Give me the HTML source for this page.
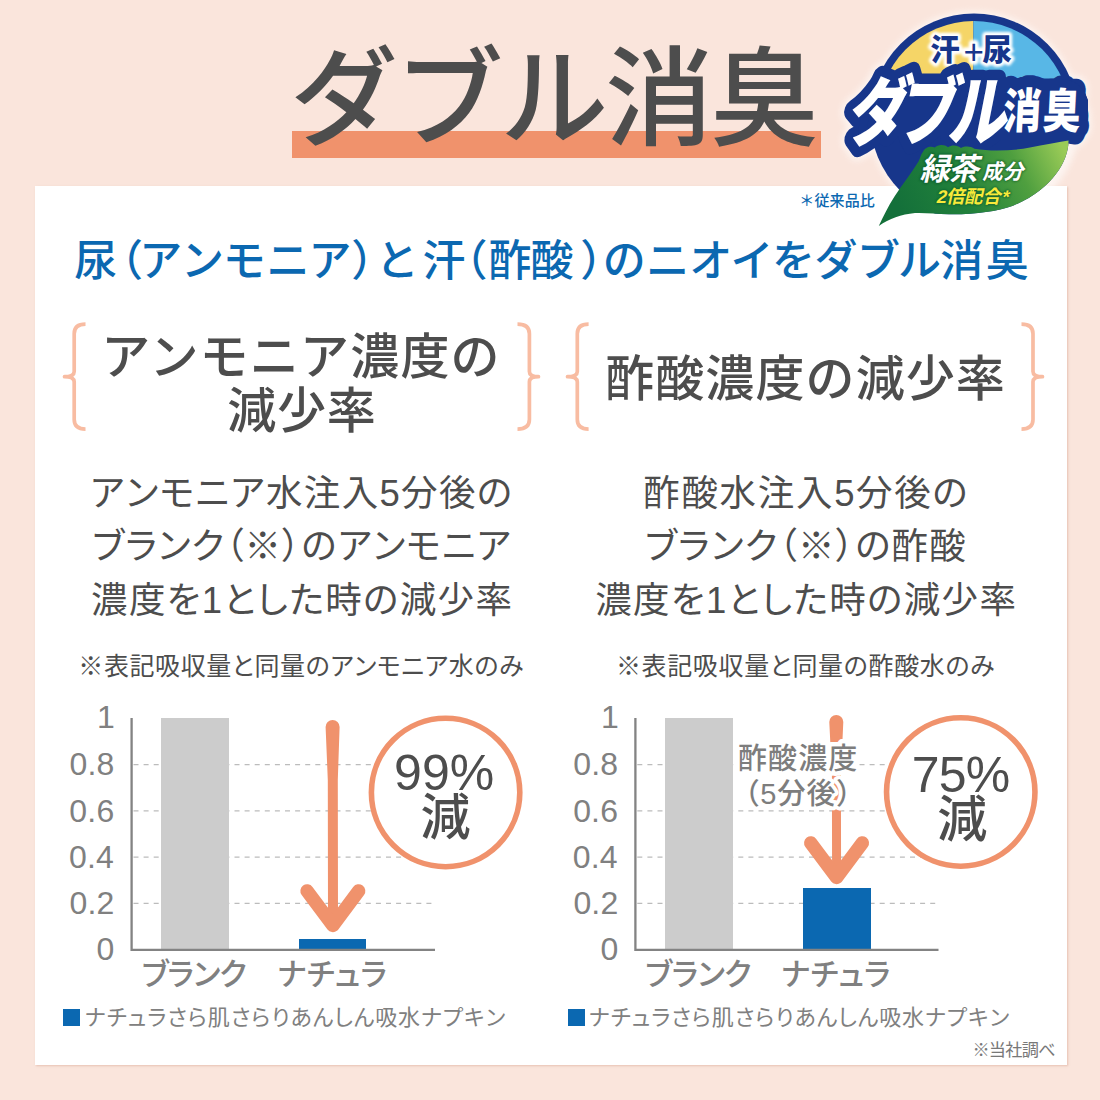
<!DOCTYPE html>
<html lang="ja"><head><meta charset="utf-8"><title>ダブル消臭</title><style>
html,body{margin:0;padding:0}
body{width:1100px;height:1100px;overflow:hidden;background:#fae5dc;font-family:"Liberation Sans",sans-serif}
.page{position:relative;width:1100px;height:1100px;overflow:hidden;background:#fae5dc}
h1,h2,h3,p,figure,figcaption,small,strong,section,header,main,footer{margin:0;padding:0;font-size:0;line-height:0;font-weight:normal;display:block}
.t,.g{position:absolute;display:block;overflow:visible}
.defs{position:absolute;width:0;height:0;overflow:hidden}
.sr{position:absolute;left:0;top:0;width:1px;height:1px;margin:-1px;overflow:hidden;clip:rect(0 0 0 0);clip-path:inset(50%);white-space:nowrap;font-size:1px;line-height:1px}
.ubar{position:absolute;left:292px;top:131px;width:529px;height:26.5px;background:#f0926c}
.cardbg{position:absolute;left:35px;top:186px;width:1032px;height:879px;background:#fff;box-shadow:1.2px 1.2px 1.8px rgba(214,160,140,.5)}
.bar{position:absolute}
.bar.blank{background:#cccccc}
.bar.nat,.key{background:#0b68b1}
.key{position:absolute;width:17px;height:16.5px}
svg text{font-family:"Liberation Sans","Noto Sans CJK JP",sans-serif;white-space:pre}
</style></head><body>
<div class="page"><div class="cardbg"></div><header class="hd"><div class="ubar"></div><h1><span class="sr">ダブル消臭</span><svg class="t" aria-hidden="true" focusable="false" style="left:293px;top:41px" width="524" height="107" viewBox="293 41 524 107"><text x="290.12" y="136.66" font-size="108" font-weight="500" fill="#4d4d4d" letter-spacing="-2.92">ダブル消臭</text></svg></h1><div class="emblem"><span class="sr">汗+尿 ダブル消臭 緑茶成分2倍配合*</span><svg class="g" aria-hidden="true" focusable="false" style="left:832px;top:0px" width="268" height="240" viewBox="832 0 268 240"><defs><linearGradient id="leafg" gradientUnits="userSpaceOnUse" x1="905" y1="222" x2="1062" y2="146"><stop offset="0" stop-color="#14703a"/><stop offset=".38" stop-color="#22813b"/><stop offset=".72" stop-color="#4f9f3f"/><stop offset="1" stop-color="#9acb57"/></linearGradient><filter id="soft" x="-20%" y="-20%" width="140%" height="140%"><feGaussianBlur stdDeviation="3"/></filter><filter id="glow" x="-30%" y="-30%" width="160%" height="160%"><feGaussianBlur stdDeviation="1.6"/></filter><filter id="shade" x="-20%" y="-20%" width="140%" height="140%"><feGaussianBlur stdDeviation="1.3"/></filter></defs><g filter="url(#soft)" fill="#fff" stroke="#fff" opacity=".6"><circle cx="974" cy="117.5" r="104" stroke-width="5"/><g stroke-linejoin="round"><text transform="translate(845.38 139.4) skewX(-11) scale(0.775 1)" font-size="76" font-weight="900" letter-spacing="-10.58" stroke-width="28">ダブル</text><text transform="translate(1002.53 128.4) skewX(-3) scale(0.8 1)" font-size="47.5" font-weight="900" letter-spacing="2" stroke-width="30">消臭</text></g></g><clipPath id="disc"><path d="M832 0 H1100 V141 L1068.5 140.6 C1068.6 151 1064.5 163 1056 174 C1047 186 1033 197.5 1013 205.8 C996 211.6 975 214.6 949 214.3 C936 214.2 925 212.6 915 213.1 C901 214.4 889.5 219 878.8 225.9 L832 240 Z"/></clipPath><circle cx="974" cy="117.5" r="104" fill="#17368b" clip-path="url(#disc)"/><path d="M973.4 117.5 H877.6 A96.4 96.4 0 0 1 973.4 21.1 Z" fill="#f5d567"/><path d="M973.4 117.5 V21.1 A96.4 96.4 0 0 1 1070.4 117.5 Z" fill="#58b7e6"/><g filter="url(#glow)" fill="#fff" stroke="#fff" stroke-linejoin="round"><text x="930.13" y="59.6" font-size="29.5" font-weight="900" stroke-width="5.9">汗</text><text x="963.62" y="63.6" font-size="35" font-weight="500" stroke-width="7">+</text><text x="982.58" y="59.6" font-size="29.5" font-weight="900" stroke-width="5.9">尿</text></g><g filter="url(#glow)" fill="#fff" stroke="#fff" stroke-linejoin="round" opacity=".9"><text x="930.13" y="59.6" font-size="29.5" font-weight="900" stroke-width="3.54">汗</text><text x="963.62" y="63.6" font-size="35" font-weight="500" stroke-width="4.2">+</text><text x="982.58" y="59.6" font-size="29.5" font-weight="900" stroke-width="3.54">尿</text></g><g fill="#17368b"><text x="930.13" y="59.6" font-size="29.5" font-weight="900">汗</text><text x="963.62" y="63.6" font-size="35" font-weight="500">+</text><text x="982.58" y="59.6" font-size="29.5" font-weight="900">尿</text></g><g fill="#17368b" stroke="#17368b" stroke-linejoin="round" stroke-linecap="round"><text transform="translate(845.38 139.4) skewX(-11) scale(0.775 1)" font-size="76" font-weight="900" letter-spacing="-10.58" stroke-width="21">ダブル</text><text transform="translate(1002.53 128.4) skewX(-3) scale(0.8 1)" font-size="47.5" font-weight="900" letter-spacing="2" stroke-width="24">消臭</text><path d="M868 100 H1076 V132 H862 Z" stroke-width="8"/><path d="M966 82 Q966 79 969 79 H1062 Q1082 80 1087.5 100 V120 H966 Z" stroke-width="1"/></g><g fill="#fff"><text transform="translate(845.38 139.4) skewX(-11) scale(0.775 1)" font-size="76" font-weight="900" letter-spacing="-10.58">ダブル</text><text transform="translate(1002.53 128.4) skewX(-3) scale(0.8 1)" font-size="47.5" font-weight="900" letter-spacing="2">消臭</text></g><path d="M878.8 225.9 C883 217 888 206.5 894.5 196.4 C902 184.5 911 174 918.5 161.5 C920.5 158 920.6 154.6 923 151.8 C924.6 147.6 930.5 145.4 934.8 147.6 C937.8 144.2 944.4 144 948 147.2 C951.6 144.6 957.8 144.8 961 148 C965 145.8 971 146.2 974.4 148.8 C990 151.5 1012 151 1030 147.6 C1044 145 1057 142.6 1068.5 140.6 C1068.6 151 1064.5 163 1056 174 C1047 186 1033 197.5 1013 205.8 C996 211.6 975 214.6 949 214.3 C936 214.2 925 212.6 915 213.1 C901 214.4 889.5 219 878.8 225.9 Z" fill="url(#leafg)"/><g filter="url(#shade)" fill="#0f5a2c" stroke="#0f5a2c" stroke-linejoin="round" opacity=".8"><text transform="translate(919.65 179.6) skewX(-13) scale(0.97 1)" font-size="31" font-weight="700" letter-spacing="-1.24" stroke-width="2.17">緑茶</text><text transform="translate(982.22 178.6) skewX(-13) scale(0.97 1)" font-size="21" font-weight="700" letter-spacing="0.41" stroke-width="1.47">成分</text><text transform="translate(935.78 202.9) skewX(-13)" font-size="18.2" font-weight="700" letter-spacing="0.1" stroke-width="1.46">2倍配合*</text></g><g fill="#fff"><text transform="translate(919.65 179.6) skewX(-13) scale(0.97 1)" font-size="31" font-weight="700" letter-spacing="-1.24">緑茶</text><text transform="translate(982.22 178.6) skewX(-13) scale(0.97 1)" font-size="21" font-weight="700" letter-spacing="0.41">成分</text></g><g fill="#f8ea3a"><text transform="translate(935.78 202.9) skewX(-13)" font-size="18.2" font-weight="700" letter-spacing="0.1">2倍配合*</text></g></svg></div><small><span class="sr">＊従来品比</span><svg class="t" aria-hidden="true" focusable="false" style="left:799px;top:191px" width="78" height="19" viewBox="799 191 78 19"><text x="799.32" y="206.28" font-size="15" font-weight="500" fill="#0b68b1" letter-spacing="0.12">＊従来品比</text></svg></small></header><main class="card"><h2><span class="sr">尿（アンモニア）と汗（酢酸）のニオイをダブル消臭</span><svg class="t" aria-hidden="true" focusable="false" style="left:73px;top:236px" width="957" height="46" viewBox="73 236 957 46"><text x="74.35 100.06 139.13 180.97 222.64 266.54 308.55 351.25 375.72 422.42 444.43 488.55 530.61 580.23 602.66 646.26 689.13 730.5 772.12 814.39 857.08 897.93 940.21 985.87" y="275.8" font-size="43" font-weight="500" fill="#0b68b1">尿（アンモニア）と汗（酢酸）のニオイをダブル消臭</text></svg></h2><section class="col ammonia"><svg class="g brace" aria-hidden="true" style="left:61px;top:321px" width="27" height="110" viewBox="61 321 27 110"><path d="M85.5 324.2 Q74.2 324.2 74.2 333.7 L74.2 371.45 Q74.2 376.65 64.5 376.65 Q74.2 376.65 74.2 381.85 L74.2 419.6 Q74.2 429.1 85.5 429.1" fill="none" stroke="#f8bca2" stroke-width="3.7" stroke-linejoin="round"/></svg><svg class="g brace" aria-hidden="true" style="left:514px;top:321px" width="27" height="110" viewBox="514 321 27 110"><path d="M517.5 324.2 Q529.4 324.2 529.4 333.7 L529.4 371.45 Q529.4 376.65 538.5 376.65 Q529.4 376.65 529.4 381.85 L529.4 419.6 Q529.4 429.1 517.5 429.1" fill="none" stroke="#f8bca2" stroke-width="3.7" stroke-linejoin="round"/></svg><h3><span class="sr">アンモニア濃度の減少率</span><svg class="t" aria-hidden="true" focusable="false" style="left:105px;top:330px" width="395" height="51" viewBox="105 330 395 51"><text x="101.16" y="374.35" font-size="49" font-weight="500" fill="#4d4d4d" letter-spacing="1.2">アンモニア濃度の</text></svg><svg class="t" aria-hidden="true" focusable="false" style="left:227px;top:384px" width="149" height="50" viewBox="227 384 149 50"><text x="227.36" y="427.53" font-size="49" font-weight="500" fill="#4d4d4d" letter-spacing="0.75">減少率</text></svg></h3><p><span class="sr">アンモニア水注入5分後の</span><svg class="t" aria-hidden="true" focusable="false" style="left:91px;top:472px" width="421" height="39" viewBox="91 472 421 39"><text x="89.07 123.68 158.14 194.51 229.27 265.92 303.78 341.64 379.5 401.12 438.98 476.26" y="505.51" font-size="36.5" fill="#4d4d4d">アンモニア水注入5分後の</text></svg><span class="sr">ブランク（※）のアンモニア</span><svg class="t" aria-hidden="true" focusable="false" style="left:92px;top:525px" width="420" height="40" viewBox="92 525 420 40"><text x="90.06 122.63 155.88 190.35 208.31 244.56 280.82 300.86 336.38 370.7 404.87 440.94 475.4" y="558.81" font-size="36.5" fill="#4d4d4d">ブランク（※）のアンモニア</text></svg><span class="sr">濃度を1とした時の減少率</span><svg class="t" aria-hidden="true" focusable="false" style="left:90px;top:580px" width="422" height="39" viewBox="90 580 422 39"><text x="91.07 128.92 166.34 201.82 222.37 254.09 288.14 325.3 362.57 399.69 437.54 475.39" y="613.17" font-size="36.5" fill="#4d4d4d">濃度を1とした時の減少率</text></svg></p><small><span class="sr">※表記吸収量と同量のアンモニア水のみ</span><svg class="t" aria-hidden="true" focusable="false" style="left:79px;top:651px" width="446" height="28" viewBox="79 651 446 28"><text x="78.3 103.89 129.48 155.06 180.65 206.24 231.1 254.44 280.03 305.22 329.4 352.77 376.03 400.59 424.05 448.82 474 498.99" y="674.71" font-size="25" fill="#4d4d4d">※表記吸収量と同量のアンモニア水のみ</text></svg></small><figure class="chart"><svg class="g plot" aria-hidden="true" style="left:125px;top:706px" width="404" height="260" viewBox="125 706 404 260"><line x1="133.5" y1="764.5" x2="435" y2="764.5" stroke="#bcbcbc" stroke-width="1.25" stroke-dasharray="5 5.1"/><line x1="133.5" y1="810.75" x2="435" y2="810.75" stroke="#bcbcbc" stroke-width="1.25" stroke-dasharray="5 5.1"/><line x1="133.5" y1="857" x2="435" y2="857" stroke="#bcbcbc" stroke-width="1.25" stroke-dasharray="5 5.1"/><line x1="133.5" y1="903.25" x2="435" y2="903.25" stroke="#bcbcbc" stroke-width="1.25" stroke-dasharray="5 5.1"/></svg><div class="bar blank" style="left:161px;top:717.5px;width:67.5px;height:232px"></div><div class="bar nat" style="left:299.25px;top:939.44px;width:67px;height:10.06px"></div><svg class="g plot" aria-hidden="true" style="left:125px;top:706px" width="404" height="260" viewBox="125 706 404 260"><path d="M131.6 718.05 V949.9 H435" fill="none" stroke="#838383" stroke-width="2.3"/><path d="M325.6 727 A7 7 0 0 1 339.6 727 L337.8 780 L338 923.94 L328 923.94 L327.8 780 Z" fill="#f0926c"/><path d="M307.1 890.94 L332.9 925.44 L358.6 890.94" fill="none" stroke="#f0926c" stroke-width="13.5" stroke-linecap="round" stroke-linejoin="round"/></svg><strong class="result"><span class="sr">99%減</span><svg class="g" aria-hidden="true" focusable="false" style="left:365px;top:712px" width="160" height="160" viewBox="365 712 160 160"><circle cx="445.6" cy="792.5" r="74.2" fill="#fff" stroke="#f0926c" stroke-width="5.6"/><g fill="#4d4d4d"><text x="393.98" y="789.82" font-size="50" font-weight="500" letter-spacing="0.12">99%</text><text x="420.46" y="835.35" font-size="50" font-weight="500">減</text></g></svg></strong><span class="sr">1</span><svg class="t" aria-hidden="true" focusable="false" style="left:97px;top:702px" width="18" height="29" viewBox="97 702 18 29"><text x="97.12" y="728.15" font-size="32" fill="#808080">1</text></svg><span class="sr">0.8</span><svg class="t" aria-hidden="true" focusable="false" style="left:69px;top:749px" width="46" height="29" viewBox="69 749 46 29"><text x="69.45" y="775.37" font-size="32" fill="#808080" letter-spacing="0.17">0.8</text></svg><span class="sr">0.6</span><svg class="t" aria-hidden="true" focusable="false" style="left:68px;top:795px" width="47" height="30" viewBox="68 795 47 30"><text x="69.37" y="821.62" font-size="32" fill="#808080" letter-spacing="0.17">0.6</text></svg><span class="sr">0.4</span><svg class="t" aria-hidden="true" focusable="false" style="left:68px;top:841px" width="47" height="30" viewBox="68 841 47 30"><text x="68.98" y="867.87" font-size="32" fill="#808080" letter-spacing="0.17">0.4</text></svg><span class="sr">0.2</span><svg class="t" aria-hidden="true" focusable="false" style="left:69px;top:888px" width="46" height="29" viewBox="69 888 46 29"><text x="69.59" y="914.12" font-size="32" fill="#808080" letter-spacing="0.17">0.2</text></svg><span class="sr">0</span><svg class="t" aria-hidden="true" focusable="false" style="left:96px;top:933px" width="19" height="30" viewBox="96 933 19 30"><text x="96.61" y="959.67" font-size="32" fill="#808080">0</text></svg><span class="sr">ブランク</span><svg class="t" aria-hidden="true" focusable="false" style="left:141px;top:956px" width="107" height="33" viewBox="141 956 107 33"><text x="139.89 165.35 191.4 218.45" y="984.86" font-size="30.5" font-weight="500" fill="#808080">ブランク</text></svg><span class="sr">ナチュラ</span><svg class="t" aria-hidden="true" focusable="false" style="left:277px;top:959px" width="111" height="30" viewBox="277 959 111 30"><text x="276.87 305.7 332.18 358.17" y="985.02" font-size="30.5" font-weight="500" fill="#808080">ナチュラ</text></svg><figcaption><span class="key" style="left:63px;top:1009px"></span><span class="sr">ナチュラさら肌さらりあんしん吸水ナプキン</span><svg class="t" aria-hidden="true" focusable="false" style="left:84px;top:1004px" width="423" height="26" viewBox="84 1004 423 26"><text x="84.36 106.07 126.08 145.74 166.51 186.12 207.81 229.93 249.55 269.9 290.15 312.08 332.49 353.05 375.18 398.1 420.46 441.62 463.35 484.4" y="1025.34" font-size="22" fill="#808080">ナチュラさら肌さらりあんしん吸水ナプキン</text></svg></figcaption></figure></section><section class="col acetic"><svg class="g brace" aria-hidden="true" style="left:564px;top:321px" width="27" height="110" viewBox="564 321 27 110"><path d="M588.6 324.2 Q577.3 324.2 577.3 333.7 L577.3 371.45 Q577.3 376.65 567.5 376.65 Q577.3 376.65 577.3 381.85 L577.3 419.6 Q577.3 429.1 588.6 429.1" fill="none" stroke="#f8bca2" stroke-width="3.7" stroke-linejoin="round"/></svg><svg class="g brace" aria-hidden="true" style="left:1018px;top:321px" width="27" height="110" viewBox="1018 321 27 110"><path d="M1021.5 324.2 Q1033 324.2 1033 333.7 L1033 371.45 Q1033 376.65 1042.5 376.65 Q1033 376.65 1033 381.85 L1033 419.6 Q1033 429.1 1021.5 429.1" fill="none" stroke="#f8bca2" stroke-width="3.7" stroke-linejoin="round"/></svg><h3><span class="sr">酢酸濃度の減少率</span><svg class="t" aria-hidden="true" focusable="false" style="left:605px;top:352px" width="400" height="50" viewBox="605 352 400 50"><text x="605.14" y="395.73" font-size="49" font-weight="500" fill="#4d4d4d" letter-spacing="1.1">酢酸濃度の減少率</text></svg></h3><p><span class="sr">酢酸水注入5分後の</span><svg class="t" aria-hidden="true" focusable="false" style="left:643px;top:472px" width="324" height="39" viewBox="643 472 324 39"><text x="643.21 681.39 719.58 757.76 795.95 834.13 856.07 894.25 931.85" y="505.51" font-size="36.5" fill="#4d4d4d">酢酸水注入5分後の</text></svg><span class="sr">ブランク（※）の酢酸</span><svg class="t" aria-hidden="true" focusable="false" style="left:645px;top:525px" width="322" height="40" viewBox="645 525 322 40"><text x="642.76 675.48 708.89 743.5 761.62 798.03 834.43 854.63 891.62 929.33" y="558.81" font-size="36.5" fill="#4d4d4d">ブランク（※）の酢酸</text></svg><span class="sr">濃度を1とした時の減少率</span><svg class="t" aria-hidden="true" focusable="false" style="left:594px;top:580px" width="422" height="39" viewBox="594 580 422 39"><text x="595.17 633.01 670.42 705.89 726.43 758.14 792.19 829.34 866.6 903.71 941.55 979.39" y="613.17" font-size="36.5" fill="#4d4d4d">濃度を1とした時の減少率</text></svg></p><small><span class="sr">※表記吸収量と同量の酢酸水のみ</span><svg class="t" aria-hidden="true" focusable="false" style="left:617px;top:651px" width="379" height="28" viewBox="617 651 379 28"><text x="615.9 641.55 667.2 692.84 718.49 744.14 769.06 792.46 818.11 843.35 868.5 894.15 919.8 945.04 970.09" y="674.71" font-size="25" fill="#4d4d4d">※表記吸収量と同量の酢酸水のみ</text></svg></small><figure class="chart"><svg class="g plot" aria-hidden="true" style="left:628px;top:706px" width="415" height="260" viewBox="628 706 415 260"><line x1="637.3" y1="764.5" x2="938.5" y2="764.5" stroke="#bcbcbc" stroke-width="1.25" stroke-dasharray="5 5.1"/><line x1="637.3" y1="810.75" x2="938.5" y2="810.75" stroke="#bcbcbc" stroke-width="1.25" stroke-dasharray="5 5.1"/><line x1="637.3" y1="857" x2="938.5" y2="857" stroke="#bcbcbc" stroke-width="1.25" stroke-dasharray="5 5.1"/><line x1="637.3" y1="903.25" x2="938.5" y2="903.25" stroke="#bcbcbc" stroke-width="1.25" stroke-dasharray="5 5.1"/></svg><div class="bar blank" style="left:665px;top:717.5px;width:67.75px;height:232px"></div><div class="bar nat" style="left:803px;top:887.52px;width:67.5px;height:61.98px"></div><svg class="g plot" aria-hidden="true" style="left:628px;top:706px" width="415" height="260" viewBox="628 706 415 260"><path d="M635.4 718.05 V949.9 H938.5" fill="none" stroke="#838383" stroke-width="2.3"/><path d="M829.3 722 A7 7 0 0 1 843.3 722 L840.9 775 L841.1 875.92 L832.1 875.92 L831.9 775 Z" fill="#f0926c"/><path d="M810.8 842.92 L836.6 877.42 L862.3 842.92" fill="none" stroke="#f0926c" stroke-width="13.5" stroke-linecap="round" stroke-linejoin="round"/></svg><strong class="result"><span class="sr">75%減</span><svg class="g" aria-hidden="true" focusable="false" style="left:880px;top:712px" width="160" height="160" viewBox="880 712 160 160"><circle cx="960.75" cy="792" r="74.2" fill="#fff" stroke="#f0926c" stroke-width="5.6"/><g fill="#4d4d4d"><text x="911.72" y="792.02" font-size="50" font-weight="500" letter-spacing="-0.84">75%</text><text x="937.21" y="837.35" font-size="50" font-weight="500">減</text></g></svg></strong><span class="sr">酢酸濃度（5分後）</span><svg class="t" aria-hidden="true" focusable="false" style="left:728px;top:733px" width="140" height="50" viewBox="728 733 140 50"><text x="737.9" y="768.69" font-size="29" font-weight="500" letter-spacing="1.13" fill="#7d7d7d" stroke="#fff" stroke-width="9" stroke-linejoin="round" paint-order="stroke">酢酸濃度</text></svg><svg class="t" aria-hidden="true" focusable="false" style="left:741px;top:769px" width="114" height="48" viewBox="741 769 114 48"><text x="730.85 760.24 777.17 806.56 835.95" y="803.97" font-size="29" font-weight="500" fill="#7d7d7d" stroke="#fff" stroke-width="7.5" stroke-linejoin="round" paint-order="stroke">（5分後）</text></svg><span class="sr">1</span><svg class="t" aria-hidden="true" focusable="false" style="left:601px;top:702px" width="18" height="29" viewBox="601 702 18 29"><text x="600.92" y="728.15" font-size="32" fill="#808080">1</text></svg><span class="sr">0.8</span><svg class="t" aria-hidden="true" focusable="false" style="left:572px;top:749px" width="47" height="29" viewBox="572 749 47 29"><text x="573.25" y="775.37" font-size="32" fill="#808080" letter-spacing="0.17">0.8</text></svg><span class="sr">0.6</span><svg class="t" aria-hidden="true" focusable="false" style="left:572px;top:795px" width="47" height="30" viewBox="572 795 47 30"><text x="573.17" y="821.62" font-size="32" fill="#808080" letter-spacing="0.17">0.6</text></svg><span class="sr">0.4</span><svg class="t" aria-hidden="true" focusable="false" style="left:572px;top:841px" width="47" height="30" viewBox="572 841 47 30"><text x="572.78" y="867.87" font-size="32" fill="#808080" letter-spacing="0.17">0.4</text></svg><span class="sr">0.2</span><svg class="t" aria-hidden="true" focusable="false" style="left:572px;top:888px" width="47" height="29" viewBox="572 888 47 29"><text x="573.39" y="914.12" font-size="32" fill="#808080" letter-spacing="0.17">0.2</text></svg><span class="sr">0</span><svg class="t" aria-hidden="true" focusable="false" style="left:600px;top:933px" width="19" height="30" viewBox="600 933 19 30"><text x="600.41" y="959.67" font-size="32" fill="#808080">0</text></svg><span class="sr">ブランク</span><svg class="t" aria-hidden="true" focusable="false" style="left:645px;top:956px" width="108" height="33" viewBox="645 956 108 33"><text x="643.59 669.45 695.9 723.35" y="984.86" font-size="30.5" font-weight="500" fill="#808080">ブランク</text></svg><span class="sr">ナチュラ</span><svg class="t" aria-hidden="true" focusable="false" style="left:781px;top:959px" width="110" height="30" viewBox="781 959 110 30"><text x="780.57 809.4 835.88 861.87" y="985.02" font-size="30.5" font-weight="500" fill="#808080">ナチュラ</text></svg><figcaption><span class="key" style="left:567.5px;top:1009px"></span><span class="sr">ナチュラさら肌さらりあんしん吸水ナプキン</span><svg class="t" aria-hidden="true" focusable="false" style="left:588px;top:1004px" width="423" height="26" viewBox="588 1004 423 26"><text x="588.36 610.07 630.08 649.74 670.51 690.12 711.81 733.93 753.55 773.9 794.15 816.08 836.49 857.05 879.18 902.1 924.46 945.62 967.35 988.4" y="1025.34" font-size="22" fill="#808080">ナチュラさら肌さらりあんしん吸水ナプキン</text></svg></figcaption></figure></section><footer><span class="sr">※当社調べ</span><svg class="t" aria-hidden="true" focusable="false" style="left:972px;top:1039px" width="85" height="21" viewBox="972 1039 85 21"><text x="972.39" y="1055.82" font-size="17.2" fill="#787878" letter-spacing="-0.73">※当社調べ</text></svg></footer></main></div>
</body></html>
